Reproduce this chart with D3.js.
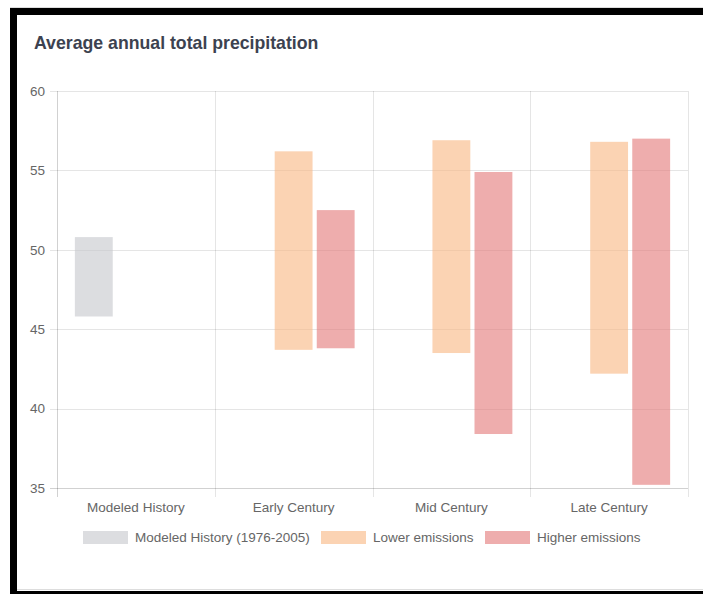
<!DOCTYPE html>
<html>
<head>
<meta charset="utf-8">
<script src="https://cdn.jsdelivr.net/npm/d3@7"></script>
<style>
  html, body { margin: 0; padding: 0; background: #fff; }
  body { width: 703px; height: 594px; overflow: hidden; }
  svg { display: block; font-family: 'Liberation Sans', Arial, sans-serif; }
</style>
</head>
<body>
<div id="chart"></div>
<script>
const categories = ['Modeled History', 'Early Century', 'Mid Century', 'Late Century']
const seriesNames = ['Modeled History (1976-2005)', 'Lower emissions', 'Higher emissions']
const historyRange = [[45.8, 50.8], null, null, null]
const lowerRange = [null, [43.7, 56.2], [43.5, 56.9], [42.2, 56.8]]
const higherRange = [null, [43.8, 52.5], [38.4, 54.9], [35.2, 57.0]]
const yTicks = [35, 40, 45, 50, 55, 60]
const seriesColors = ['rgb(197,198,203)', 'rgb(248,182,128)', 'rgb(227,118,118)']

const width = 703
const height = 594
const plot = { left: 57, right: 688, top: 91, bottom: 488 }

const svg = d3.select('#chart').append('svg')
  .attr('width', width)
  .attr('height', height)

// frame (black bars on top, left, bottom)
svg.append('rect').attr('x', 10).attr('y', 7).attr('width', 693).attr('height', 1).attr('fill', '#ddd')
svg.append('rect').attr('x', 10).attr('y', 8).attr('width', 693).attr('height', 7).attr('fill', '#000')
svg.append('rect').attr('x', 10).attr('y', 8).attr('width', 7).attr('height', 586).attr('fill', '#000')
svg.append('rect').attr('x', 17).attr('y', 589).attr('width', 686).attr('height', 1).attr('fill', '#ddd')
svg.append('rect').attr('x', 10).attr('y', 591).attr('width', 693).attr('height', 3).attr('fill', '#000')

// title
svg.append('text')
  .attr('x', 34)
  .attr('y', 49)
  .attr('fill', '#3c4250')
  .style('font-size', '17.7px')
  .style('font-weight', 'bold')
  .text('Average annual total precipitation')

// scales
const xScale = d3.scaleBand()
  .domain(categories)
  .range([plot.left, plot.right])
  .padding(0)

const slotScale = d3.scaleBand()
  .domain(seriesNames)
  .range([xScale.bandwidth() * 0.1, xScale.bandwidth() * 0.9])
  .paddingInner(0.1)
  .paddingOuter(0.05)

const yScale = d3.scaleLinear()
  .domain([35, 60])
  .range([plot.bottom, plot.top])

const gridColor = 'rgba(0,0,0,0.1)'

// horizontal grid + y ticks
svg.append('g')
  .selectAll('line')
  .data(yTicks)
  .join('line')
  .attr('x1', plot.left - 7)
  .attr('x2', plot.right)
  .attr('y1', (d) => Math.round(yScale(d)) + 0.5)
  .attr('y2', (d) => Math.round(yScale(d)) + 0.5)
  .attr('stroke', (d) => (d === 35 ? 'rgba(0,0,0,0.18)' : gridColor))

// vertical grid + x ticks
const xEdges = categories.map((c) => xScale(c)).concat([plot.right])
svg.append('g')
  .selectAll('line')
  .data(xEdges)
  .join('line')
  .attr('x1', (d) => Math.round(d) + 0.5)
  .attr('x2', (d) => Math.round(d) + 0.5)
  .attr('y1', plot.top)
  .attr('y2', plot.bottom + 9)
  .attr('stroke', (d, i) => (i === 0 ? 'rgba(0,0,0,0.18)' : gridColor))

// y tick labels
svg.append('g')
  .selectAll('text')
  .data(yTicks)
  .join('text')
  .attr('x', 45)
  .attr('y', (d) => yScale(d))
  .attr('dy', '0.35em')
  .attr('text-anchor', 'end')
  .attr('fill', '#666')
  .style('font-size', '13.5px')
  .text((d) => d)

// x tick labels
svg.append('g')
  .selectAll('text')
  .data(categories)
  .join('text')
  .attr('x', (d) => xScale(d) + xScale.bandwidth() / 2)
  .attr('y', 507)
  .attr('dy', '0.35em')
  .attr('text-anchor', 'middle')
  .attr('fill', '#666')
  .style('font-size', '13.5px')
  .text((d) => d)

// floating bars
const seriesData = [historyRange, lowerRange, higherRange]
seriesData.forEach((values, s) => {
  const rows = categories
    .map((c, i) => ({ cat: c, range: values[i] }))
    .filter((d) => d.range)
  svg.append('g')
    .selectAll('rect')
    .data(rows)
    .join('rect')
    .attr('x', (d) => xScale(d.cat) + slotScale(seriesNames[s]))
    .attr('width', slotScale.bandwidth())
    .attr('y', (d) => yScale(d.range[1]))
    .attr('height', (d) => yScale(d.range[0]) - yScale(d.range[1]))
    .attr('fill', seriesColors[s])
    .attr('fill-opacity', 0.6)
})

// legend
const legendItems = [
  { name: seriesNames[0], x: 83 },
  { name: seriesNames[1], x: 321 },
  { name: seriesNames[2], x: 485 },
]
const legend = svg.append('g')
legendItems.forEach((item, i) => {
  legend.append('rect')
    .attr('x', item.x)
    .attr('y', 531)
    .attr('width', 45)
    .attr('height', 13)
    .attr('fill', seriesColors[i])
    .attr('fill-opacity', 0.6)
  legend.append('text')
    .attr('x', item.x + 52)
    .attr('y', 537.5)
    .attr('dy', '0.35em')
    .attr('fill', '#666')
    .style('font-size', '13.5px')
    .text(item.name)
})
</script>
</body>
</html>
